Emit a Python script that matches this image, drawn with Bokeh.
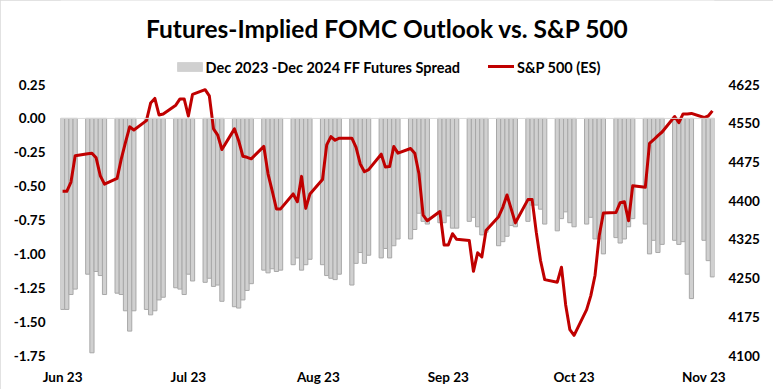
import pandas as pd
from bokeh.plotting import figure
from bokeh.models import (Range1d, LinearAxis, FixedTicker, NumeralTickFormatter,
                          DatetimeTickFormatter, Span, Label, BoxAnnotation,
                          ColumnDataSource)
from bokeh.embed import file_html
from bokeh.resources import INLINE

title_text = "Futures-Implied FOMC Outlook vs. S&P 500"
spread_label = "Dec 2023 -Dec 2024 FF Futures Spread"
spx_label = "S&P 500 (ES)"

# plotted days: blocks of consecutive days separated by two-day gaps, as in the source chart
all_days = pd.date_range("2023-06-01", "2023-11-03", freq="D")
dates = all_days[all_days.dayofweek >= 2]

spread = [
    -1.41, -1.41, -1.30, -1.26,
    -1.15, -1.73, -1.13, -1.16, -1.30,
    -1.29, -1.30, -1.42, -1.57, -1.42,
    -1.41, -1.45, -1.42, -1.34, -1.32,
    -1.25, -1.26, -1.30, -1.15, -1.20,
    -1.21, -1.18, -1.24, -1.23, -1.35,
    -1.39, -1.40, -1.34, -1.27, -1.22,
    -1.12, -1.14, -1.11, -1.13, -1.12,
    -1.08, -1.03, -1.12, -1.08, -1.04,
    -1.08, -1.16, -1.18, -1.19, -1.15,
    -1.23, -1.07, -0.99, -1.07, -1.01,
    -1.03, -0.96, -1.03, -0.94, -0.89,
    -0.89, -0.82, -0.70, -0.76, -0.78,
    -0.77, -0.77, -0.72, -0.81, -0.81,
    -0.76, -0.73, -0.80, -0.86, -0.84,
    -0.94, -0.91, -0.87, -0.79, -0.80,
    -0.76, -0.64, -0.64, -0.67, -0.78,
    -0.83, -0.74, -0.69, -0.77, -0.80,
    -0.78, -0.73, -0.89, -0.89, -1.00,
    -0.88, -0.92, -0.89, -0.80, -0.74,
    -0.78, -1.00, -0.90, -0.99, -0.93,
    -0.90, -0.93, -0.91, -1.15, -1.33,
    -0.90, -1.05, -1.17,
]

spx = [
    4418, 4418, 4436, 4487,
    4491, 4492, 4483, 4448, 4432,
    4443, 4481, 4513, 4543, 4537,
    4555, 4589, 4598, 4566, 4568,
    4585, 4597, 4597, 4564, 4606,
    4615, 4603, 4539, 4527, 4499,
    4539, 4516, 4486, 4484, 4481,
    4505, 4452, 4419, 4384, 4384,
    4413, 4398, 4447, 4385, 4413,
    4441, 4508, 4524, 4517, 4521,
    4521, 4503, 4471, 4456, 4460,
    4490, 4465, 4466, 4505, 4492,
    4501, 4492, 4452, 4372, 4361,
    4379, 4314, 4314, 4336, 4325,
    4323, 4263, 4299, 4291, 4342,
    4369, 4387, 4411, 4384, 4357,
    4402, 4402, 4338, 4284, 4247,
    4242, 4271, 4198, 4150, 4139,
    4189, 4216, 4255, 4332, 4376,
    4377, 4396, 4398, 4361, 4429,
    4426, 4511, 4518, 4526, 4533,
    4563, 4551, 4568, 4568, 4569,
    4561, 4564, 4574,
]

left_ticks = [-1.75, -1.50, -1.25, -1.00, -0.75, -0.50, -0.25, 0.00, 0.25]
right_ticks = [4100, 4175, 4250, 4325, 4400, 4475, 4550, 4625]
month_ticks = ["2023-06-01", "2023-07-01", "2023-08-01", "2023-09-01", "2023-10-01", "2023-11-01"]

W, H = 773, 389
FRAME_LEFT, FRAME_RIGHT, FRAME_BOTTOM = 60, 714, 355   # canvas px
AXIS_TOP_PX = 84        # canvas y of the top tick (0.25 / 4625)
FONT = "Lato"

DAY = 86400000.0
x_ms = [d.timestamp() * 1000.0 for d in dates]
month_ms = [pd.Timestamp(m).timestamp() * 1000.0 for m in month_ticks]

# frame spans the full height above the axis so title/legend sit inside it
axis_px = FRAME_BOTTOM - AXIS_TOP_PX
left_top = left_ticks[-1] + AXIS_TOP_PX * (left_ticks[-1] - left_ticks[0]) / axis_px
right_top = right_ticks[-1] + AXIS_TOP_PX * (right_ticks[-1] - right_ticks[0]) / axis_px

src = ColumnDataSource(dict(x=x_ms, spread=spread, spx=spx))

p = figure(width=W, height=H, x_axis_type="datetime",
           output_backend="svg", toolbar_location=None,
           x_range=Range1d(x_ms[0] - DAY / 2, x_ms[-1] + DAY / 2),
           y_range=Range1d(left_ticks[0], left_top),
           min_border_left=FRAME_LEFT, min_border_right=W - FRAME_RIGHT,
           min_border_top=0, min_border_bottom=H - FRAME_BOTTOM)
p.title.visible = False
p.styles = {"outline": "1px solid #d9d9d9", "outline-offset": "-1px"}
p.extra_y_ranges = {"spx": Range1d(right_ticks[0], right_top)}
p.grid.visible = False
p.outline_line_color = None
p.background_fill_color = "white"
p.border_fill_color = "white"

bars = p.vbar(x="x", top="spread", bottom=0, width=DAY, source=src,
              fill_color="#d0d0d0", line_color="#a8a8a8", line_width=1)
p.add_layout(Span(location=0, dimension="width", line_color="#d9d9d9", line_width=1))
line = p.line(x="x", y="spx", source=src, y_range_name="spx",
              line_color="#c00000", line_width=3, line_join="round")

right_axis = LinearAxis(y_range_name="spx")
p.add_layout(right_axis, "right")

def style_axis(ax, standoff):
    ax.axis_line_color = None
    ax.major_tick_line_color = None
    ax.minor_tick_line_color = None
    ax.major_tick_out = 0
    ax.major_tick_in = 0
    ax.minor_tick_out = 0
    ax.minor_tick_in = 0
    ax.major_label_text_font = FONT
    ax.major_label_text_font_size = "13.5px"
    ax.major_label_text_font_style = "bold"
    ax.major_label_text_color = "#000000"
    ax.major_label_standoff = standoff

ly = p.yaxis[0]
ly.ticker = FixedTicker(ticks=left_ticks)
ly.formatter = NumeralTickFormatter(format="0.00")
style_axis(ly, 15)

right_axis.ticker = FixedTicker(ticks=right_ticks)
style_axis(right_axis, 14)

xa = p.xaxis[0]
xa.ticker = FixedTicker(ticks=month_ms)
xa.formatter = DatetimeTickFormatter(days="%b %y", months="%b %y", years="%b %y",
                                     hours="%b %y", minutes="%b %y")
style_axis(xa, 13)

# positions below are in px relative to the plot frame (x from left, y from bottom)
def fx(cx):
    return cx - FRAME_LEFT

def fy(cy):
    return FRAME_BOTTOM - cy

p.add_layout(Label(x=fx(387), y=fy(28), x_units="screen", y_units="screen",
                   text=title_text, text_align="center", text_baseline="middle",
                   text_font=FONT, text_font_size="24.5px", text_font_style="bold",
                   text_color="#000000"))

# legend
p.add_layout(BoxAnnotation(left=fx(177), right=fx(202), top=fy(62), bottom=fy(71),
                           left_units="screen", right_units="screen",
                           top_units="screen", bottom_units="screen",
                           fill_color="#d0d0d0", fill_alpha=1.0,
                           line_color="#a8a8a8", line_width=1))
p.add_layout(Label(x=fx(205), y=fy(66.5), x_units="screen", y_units="screen",
                   text=spread_label, text_align="left", text_baseline="middle",
                   text_font=FONT, text_font_size="14.5px", text_font_style="bold",
                   text_color="#000000"))
p.add_layout(BoxAnnotation(left=fx(487.5), right=fx(513.5), top=fy(64.5), bottom=fy(67.5),
                           left_units="screen", right_units="screen",
                           top_units="screen", bottom_units="screen",
                           fill_color="#c00000", fill_alpha=1.0, line_color=None))
p.add_layout(Label(x=fx(516.5), y=fy(66.5), x_units="screen", y_units="screen",
                   text=spx_label, text_align="left", text_baseline="middle",
                   text_font=FONT, text_font_size="14.5px", text_font_style="bold",
                   text_color="#000000"))

open("out.html", "w").write(file_html(p, INLINE))
